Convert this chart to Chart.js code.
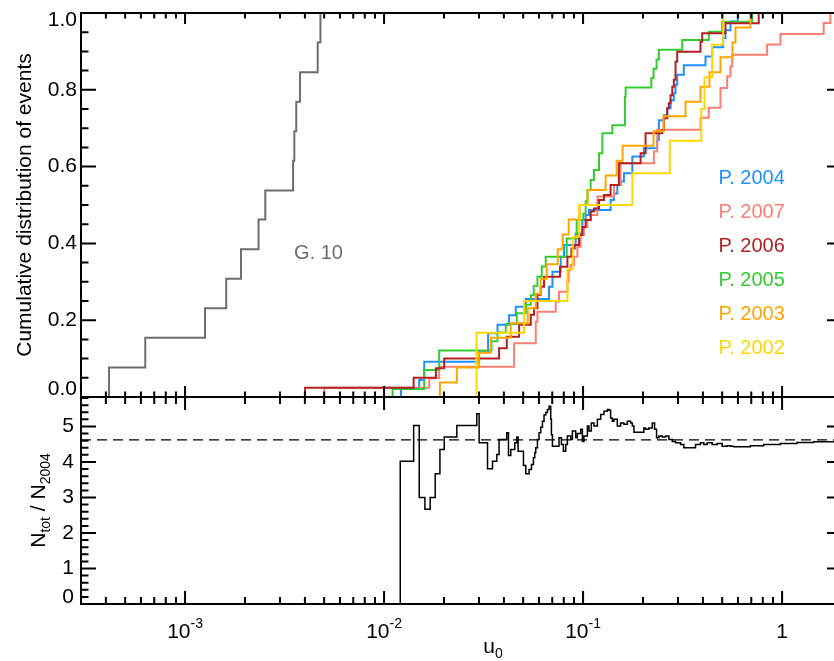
<!DOCTYPE html>
<html lang="en">
<head>
<meta charset="UTF-8">
<title>Cumulative distribution of u0</title>
<script src="https://cdn.jsdelivr.net/npm/chart.js"></script>
<style>
  body { margin: 0; background: #fff; overflow: hidden; }
  #wrap { width: 834px; height: 661px; overflow: hidden; position: relative; }
  #chart { display: block; }
</style>
</head>
<body>
<div id="wrap"><canvas id="chart" width="850" height="661"></canvas></div>
<script>
// ---- data: event u0 values and cumulative fraction ----
const xG10 = [4.15e-4, 6.31e-4, 1.26e-3, 1.61e-3, 1.91e-3, 2.34e-3, 2.53e-3, 3.49e-3, 3.54e-3, 3.62e-3, 3.78e-3, 4.64e-3, 4.79e-3];
const yG10 = [0.077, 0.154, 0.231, 0.308, 0.385, 0.462, 0.538, 0.615, 0.692, 0.769, 0.846, 0.923, 1.0];

const x2002 = [0.02914, 0.05052, 0.0834, 0.08868, 0.09559, 0.1768, 0.2729, 0.3924, 0.4075, 0.4453, 0.5058];
const y2002 = [0.167, 0.25, 0.333, 0.417, 0.5, 0.583, 0.667, 0.75, 0.833, 0.917, 1.0];

const x2003 = [0.01908, 0.02321, 0.02994, 0.0344, 0.04332, 0.05272, 0.05783, 0.06126, 0.06568, 0.07458, 0.079, 0.08466, 0.09614, 0.1055, 0.1298, 0.1474, 0.158, 0.226, 0.2537, 0.3272, 0.389, 0.4316, 0.4902, 0.563, 0.5831, 0.6935];
const y2003 = [0.038, 0.077, 0.115, 0.154, 0.192, 0.231, 0.269, 0.308, 0.346, 0.385, 0.423, 0.462, 0.5, 0.539, 0.577, 0.615, 0.654, 0.692, 0.731, 0.769, 0.808, 0.846, 0.885, 0.923, 0.962, 1.0];

const x2004 = [0.01216, 0.01502, 0.01591, 0.03004, 0.03332, 0.03715, 0.04247, 0.04589, 0.05152, 0.06744, 0.07015, 0.07719, 0.08019, 0.09181, 0.0992, 0.103, 0.107, 0.1375, 0.1429, 0.1486, 0.1544, 0.1604, 0.1768, 0.202, 0.2359, 0.2403, 0.2545, 0.2649, 0.2751, 0.2858, 0.2914, 0.2972, 0.3208, 0.4123, 0.4453, 0.5058, 0.5194, 0.5503, 0.5986];
const y2004 = [0.023, 0.044, 0.092, 0.118, 0.166, 0.188, 0.213, 0.235, 0.255, 0.287, 0.326, 0.365, 0.396, 0.426, 0.461, 0.474, 0.487, 0.513, 0.53, 0.552, 0.561, 0.583, 0.626, 0.648, 0.669, 0.721, 0.734, 0.752, 0.773, 0.791, 0.813, 0.839, 0.864, 0.887, 0.911, 0.935, 0.955, 0.978, 1.0];

const x2005 = [0.01104, 0.01591, 0.01892, 0.03467, 0.03715, 0.04089, 0.04643, 0.05152, 0.05459, 0.05652, 0.05897, 0.062, 0.06492, 0.08273, 0.09288, 0.1003, 0.103, 0.1051, 0.1092, 0.1134, 0.1202, 0.125, 0.1403, 0.1622, 0.1636, 0.2202, 0.226, 0.234, 0.2403, 0.3148, 0.4282, 0.4999, 0.7074];
const y2005 = [0.021, 0.07, 0.121, 0.145, 0.168, 0.19, 0.218, 0.24, 0.265, 0.29, 0.313, 0.34, 0.365, 0.413, 0.461, 0.478, 0.51, 0.539, 0.565, 0.591, 0.635, 0.687, 0.708, 0.782, 0.806, 0.83, 0.855, 0.879, 0.904, 0.93, 0.951, 0.977, 1.0];

const x2006 = [0.004009, 0.01408, 0.01822, 0.02004, 0.03784, 0.04136, 0.0477, 0.05459, 0.05671, 0.05897, 0.06126, 0.06365, 0.07656, 0.0834, 0.08736, 0.09075, 0.09537, 0.0992, 0.103, 0.1092, 0.1134, 0.1202, 0.1273, 0.1375, 0.1514, 0.1945, 0.2061, 0.25, 0.2545, 0.2649, 0.2698, 0.2751, 0.2806, 0.2858, 0.2914, 0.2972, 0.3891, 0.3968, 0.5194, 0.763];
const y2006 = [0.024, 0.05, 0.075, 0.1, 0.127, 0.157, 0.188, 0.214, 0.231, 0.266, 0.287, 0.313, 0.339, 0.365, 0.387, 0.396, 0.422, 0.443, 0.461, 0.483, 0.491, 0.513, 0.526, 0.552, 0.609, 0.635, 0.687, 0.695, 0.726, 0.752, 0.765, 0.786, 0.808, 0.826, 0.873, 0.899, 0.925, 0.947, 0.973, 1.0];

const x2007 = [0.005012, 0.01686, 0.01892, 0.045, 0.05783, 0.05897, 0.07287, 0.07569, 0.0834, 0.08466, 0.08664, 0.09001, 0.09363, 0.09727, 0.101, 0.1051, 0.1092, 0.118, 0.1429, 0.1544, 0.2268, 0.2359, 0.3891, 0.4282, 0.4902, 0.5297, 0.5503, 0.5612, 0.8409, 0.9806, 1.617, 1.747];
const y2007 = [0.024, 0.049, 0.079, 0.14, 0.196, 0.222, 0.248, 0.274, 0.3, 0.331, 0.344, 0.365, 0.391, 0.422, 0.443, 0.461, 0.474, 0.522, 0.552, 0.609, 0.639, 0.696, 0.727, 0.753, 0.805, 0.835, 0.861, 0.891, 0.918, 0.945, 0.974, 1.0];

// lower panel: N_tot / N_2004 as a function of u0
const xRatio = [0.01206, 0.01408, 0.01502, 0.01604, 0.01705, 0.01807, 0.01908, 0.02005, 0.02321, 0.02924,
  0.03004, 0.0331, 0.03507, 0.03685, 0.03784, 0.04136, 0.04218, 0.04332, 0.04537, 0.04643,
  0.04714, 0.05016, 0.05152, 0.05352, 0.05502, 0.0563, 0.05716, 0.05783, 0.05897, 0.06007,
  0.06126, 0.06248, 0.06365, 0.06491, 0.0662, 0.06744, 0.06877, 0.06933, 0.07015, 0.07569,
  0.07782, 0.07964, 0.08178, 0.0834, 0.08664, 0.08836, 0.09181, 0.09363, 0.09727, 0.0992,
  0.101, 0.1051, 0.107, 0.11, 0.1134, 0.118, 0.1226, 0.1273, 0.1324, 0.1349,
  0.1375, 0.1403, 0.1429, 0.1486, 0.1544, 0.1604, 0.1668, 0.1733, 0.1768, 0.1801,
  0.202, 0.2061, 0.2141, 0.2227, 0.2287, 0.234, 0.2403, 0.25, 0.2597, 0.2698,
  0.2806, 0.2914, 0.3088, 0.3208, 0.3673, 0.3891, 0.4043, 0.4205, 0.4453, 0.4718,
  0.4999, 0.5297, 0.5503, 0.5716, 0.6935, 0.8087, 0.9806, 1.189, 1.441, 1.83];
const yRatio = [4.02, 5.03, 3.0, 2.67, 3.0, 3.67, 4.35, 4.7, 5.03, 5.36,
  4.54, 3.81, 4.02, 4.21, 4.63, 4.82, 4.18, 4.35, 4.54, 4.7,
  4.3, 3.9, 3.67, 3.79, 3.93, 4.12, 4.26, 4.4, 4.63, 4.82,
  4.98, 5.15, 5.32, 5.39, 5.48, 5.57, 5.2, 4.77, 4.44, 4.68,
  4.49, 4.3, 4.49, 4.73, 4.63, 4.87, 4.68, 4.8, 4.92, 4.58,
  4.73, 5.01, 4.87, 5.1, 5.01, 5.2, 5.34, 5.43, 5.48, 5.46,
  5.24, 5.15, 5.2, 5.01, 5.1, 5.06, 5.15, 5.1, 5.01, 4.84,
  4.96, 4.92, 4.96, 5.1, 4.92, 4.68, 4.73, 4.7, 4.73, 4.63,
  4.58, 4.54, 4.49, 4.4, 4.49, 4.54, 4.49, 4.54, 4.49, 4.52,
  4.44, 4.46, 4.44, 4.43, 4.46, 4.49, 4.52, 4.55, 4.57, 4.61];
const ratioMean = 4.62;

// axes
const xRange = [3e-4, 2];
const yTopTicks = [0, 0.2, 0.4, 0.6, 0.8, 1.0];
const yBotTicks = [0, 1, 2, 3, 4, 5];
const yBotMax = 5.83;
const xTickLabels = [[1e-3, '10', '-3'], [1e-2, '10', '-2'], [1e-1, '10', '-1'], [1, '1', '']];

// labels in the upper panel (top to bottom)
const seriesNames = ['P. 2004', 'P. 2007', 'P. 2006', 'P. 2005', 'P. 2003', 'P. 2002'];
const seriesColors = ['#1e90ff', '#fa8072', '#b22222', '#32cd32', '#ffa500', '#ffd700'];
const g10Color = '#6e6e6e';

const FONT = '"Liberation Sans", Arial, Helvetica, sans-serif';

function cdf(xs, ys) {
    const pts = [{ x: xs[0], y: 0 }];
    xs.forEach((x, i) => pts.push({ x: x, y: ys[i] }));
    return pts;
}

function stepLine(data, color, axis, width) {
    return {
        data: data,
        borderColor: color,
        borderWidth: width,
        pointRadius: 0,
        stepped: 'before',
        fill: false,
        yAxisID: axis
    };
}

function tick(ctx, x0, y0, x1, y1) {
    ctx.moveTo(x0, y0);
    ctx.lineTo(x1, y1);
}

// IDL style frame: inward ticks on all four sides of both panels, plus texts
const idlAxes = {
    id: 'idlAxes',
    afterDatasetsDraw(chart) {
        const ctx = chart.ctx;
        const sx = chart.scales.x, st = chart.scales.yTop, sb = chart.scales.yBot;
        const L = sx.left, R = sx.right;
        ctx.save();
        ctx.strokeStyle = '#000';
        ctx.lineWidth = 2;
        ctx.beginPath();
        ctx.rect(L, st.top, R - L, st.bottom - st.top);
        ctx.rect(L, sb.top, R - L, sb.bottom - sb.top);

        for (let e = -4; e <= 0; e++) {
            for (let m = 1; m <= 9; m++) {
                const v = m * Math.pow(10, e);
                if (v < sx.min * 0.999 || v > sx.max * 1.001) continue;
                const p = sx.getPixelForValue(v);
                const lt = m === 1 ? 11 : 5.5, lb = m === 1 ? 13 : 7;
                tick(ctx, p, st.top, p, st.top + lt);
                tick(ctx, p, st.bottom, p, st.bottom - lt);
                tick(ctx, p, sb.top, p, sb.top + lb);
                tick(ctx, p, sb.bottom, p, sb.bottom - lb);
            }
        }
        for (let i = 0; i <= 20; i++) {
            const p = st.getPixelForValue(i * 0.05);
            const len = i % 4 === 0 ? 15 : 7.5;
            tick(ctx, L, p, L + len, p);
            tick(ctx, R, p, R - len, p);
        }
        for (let i = 0; i * 0.2 <= yBotMax; i++) {
            const p = sb.getPixelForValue(i * 0.2);
            const len = i % 5 === 0 ? 15 : 7.5;
            tick(ctx, L, p, L + len, p);
            tick(ctx, R, p, R - len, p);
        }
        ctx.stroke();

        // tick labels
        ctx.fillStyle = '#000';
        ctx.font = '21px ' + FONT;
        ctx.textAlign = 'right';
        ctx.textBaseline = 'middle';
        yTopTicks.forEach((v, i) => {
            let p = st.getPixelForValue(v);
            if (i === 0) p -= 8;
            if (i === yTopTicks.length - 1) p += 7;
            ctx.fillText(v.toFixed(1), L - 4, p);
        });
        yBotTicks.forEach((v, i) => {
            let p = sb.getPixelForValue(v);
            if (i === 0) p -= 7;
            ctx.fillText(String(v), L - 7, p);
        });

        ctx.textAlign = 'left';
        ctx.textBaseline = 'alphabetic';
        xTickLabels.forEach(([v, base, exp]) => {
            const p = sx.getPixelForValue(v);
            ctx.font = '21px ' + FONT;
            const wb = ctx.measureText(base).width;
            ctx.font = '14px ' + FONT;
            const we = exp ? ctx.measureText(exp).width : 0;
            const x0 = p - (wb + we) / 2;
            ctx.font = '21px ' + FONT;
            ctx.fillText(base, x0, 638);
            if (exp) {
                ctx.font = '14px ' + FONT;
                ctx.fillText(exp, x0 + wb, 628);
            }
        });

        // x title u0
        const ux = sx.getPixelForValue(0.0315);
        ctx.font = '21px ' + FONT;
        ctx.fillText('u', ux, 653);
        const wu = ctx.measureText('u').width;
        ctx.font = '14px ' + FONT;
        ctx.fillText('0', ux + wu, 658);

        // y title, upper panel
        ctx.save();
        ctx.translate(31, (st.top + st.bottom) / 2);
        ctx.rotate(-Math.PI / 2);
        ctx.textAlign = 'center';
        ctx.font = '21px ' + FONT;
        ctx.fillText('Cumulative distribution of events', 0, 0);
        ctx.restore();

        // y title, lower panel: N_tot / N_2004
        ctx.save();
        ctx.translate(45, (sb.top + sb.bottom) / 2);
        ctx.rotate(-Math.PI / 2);
        const parts = [['N', 21, 0], ['tot', 14, 5], [' / N', 21, 0], ['2004', 14, 5]];
        let total = 0;
        parts.forEach(pt => { ctx.font = pt[1] + 'px ' + FONT; total += ctx.measureText(pt[0]).width; });
        let cx = -total / 2;
        parts.forEach(pt => {
            ctx.font = pt[1] + 'px ' + FONT;
            ctx.fillText(pt[0], cx, pt[2]);
            cx += ctx.measureText(pt[0]).width;
        });
        ctx.restore();

        // labels in the upper panel
        ctx.font = '20px ' + FONT;
        ctx.textBaseline = 'middle';
        ctx.textAlign = 'left';
        const lx = sx.getPixelForValue(0.479);
        seriesNames.forEach((name, i) => {
            ctx.fillStyle = seriesColors[i];
            ctx.fillText(name, lx, st.getPixelForValue(0.568 - i * 0.0885));
        });
        ctx.fillStyle = g10Color;
        ctx.fillText('G. 10', sx.getPixelForValue(3.53e-3), st.getPixelForValue(0.375));
        ctx.restore();
    }
};

const ctx = document.getElementById('chart').getContext('2d');
const myChart = new Chart(ctx, {
    type: 'line',
    data: {
        datasets: [
            stepLine([{ x: xRange[0], y: ratioMean }, { x: xRange[1], y: ratioMean }], '#000', 'yBot', 1.2),
            stepLine(cdf(xG10, yG10), g10Color, 'yTop', 2),
            stepLine(cdf(x2002, y2002), seriesColors[5], 'yTop', 2),
            stepLine(cdf(x2003, y2003), seriesColors[4], 'yTop', 2),
            stepLine(cdf(x2006, y2006), seriesColors[2], 'yTop', 2),
            stepLine(cdf(x2005, y2005), seriesColors[3], 'yTop', 2),
            stepLine(cdf(x2007, y2007), seriesColors[1], 'yTop', 2),
            stepLine(cdf(x2004, y2004), seriesColors[0], 'yTop', 2),
            stepLine(cdf(xRatio, yRatio), '#000', 'yBot', 1.5)
        ]
    },
    options: {
        responsive: false,
        animation: false,
        layout: { padding: { left: 0, top: 13, right: 8, bottom: 0 } },
        scales: {
            x: {
                type: 'logarithmic',
                min: xRange[0],
                max: xRange[1],
                grid: { display: false },
                border: { display: false },
                ticks: { display: false },
                afterFit: s => { s.height = 57; }
            },
            yBot: {
                type: 'linear',
                position: 'left',
                stack: 'v',
                stackWeight: 207,
                min: 0,
                max: yBotMax,
                grid: { display: false },
                border: { display: false },
                ticks: { display: false },
                afterFit: s => { s.width = 81; }
            },
            yTop: {
                type: 'linear',
                position: 'left',
                stack: 'v',
                stackWeight: 384,
                min: 0,
                max: 1,
                grid: { display: false },
                border: { display: false },
                ticks: { display: false },
                afterFit: s => { s.width = 81; }
            }
        },
        plugins: {
            legend: { display: false },
            tooltip: { enabled: false }
        }
    },
    plugins: [idlAxes]
});
// dashed mean line in the lower panel
myChart.data.datasets[0].borderDash = [10, 6];
myChart.data.datasets[0].stepped = false;
myChart.update();
</script>
</body>
</html>
